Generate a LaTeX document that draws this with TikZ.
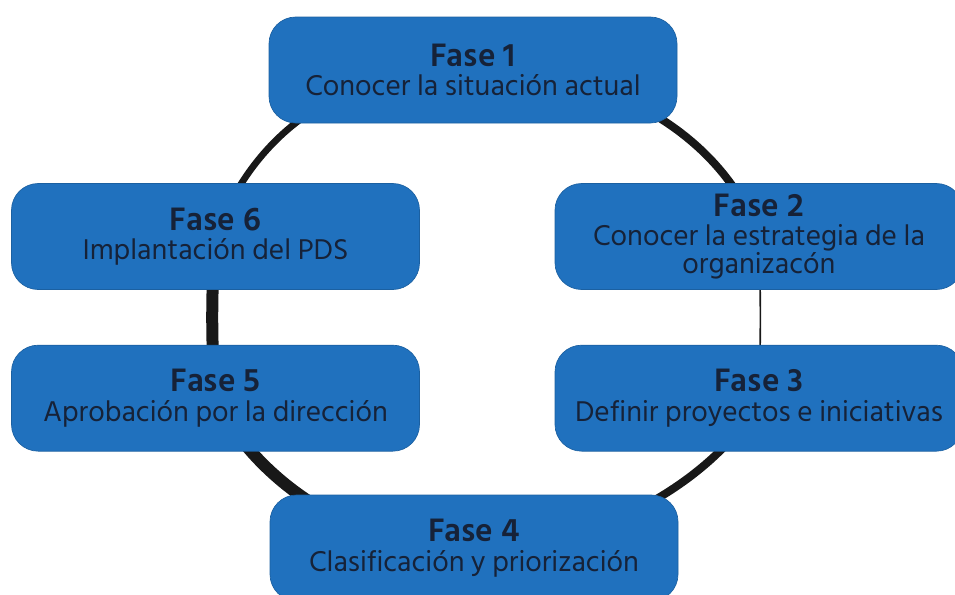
\documentclass[tikz,border=0pt]{standalone}
\usepackage{fontspec}
\setmainfont{Hind Siliguri}
\usetikzlibrary{positioning,backgrounds}
\definecolor{faseblue}{RGB}{32,113,190}
\definecolor{fasetext}{RGB}{22,34,56}
\definecolor{ringblack}{RGB}{24,24,24}

\tikzset{
  fase/.style={rectangle, rounded corners=20pt, fill=faseblue,
    draw=faseblue!85!black, line width=0.5pt,
    minimum width=306pt, minimum height=79.5pt, inner sep=0pt,
    align=center, text=fasetext, font=\fontsize{22}{21}\selectfont},
  ring/.style={draw=ringblack, line cap=butt}
}
\newcommand{\fasetitle}[1]{{\fontsize{25}{21}\selectfont\bfseries #1}\\[1pt]}

\begin{document}
\begin{tikzpicture}[x=0.75pt, y=-0.75pt]
\clip (0,0) rectangle (955,594);

% Fases
\node[fase] (f1) at (473,70) {\fasetitle{Fase 1}Conocer la situación actual};
\node[fase] (f2) at (759,236.5) {\fasetitle{Fase 2}Conocer la estrategia de la\\organizacón};
\node[fase, below=41.25pt of f2] (f3) {\fasetitle{Fase 3}Definir proyectos e iniciativas};
\node[fase] (f4) at (474,548) {\fasetitle{Fase 4}Clasificación y priorización};
\node[fase] (f6) at (215.5,236.5) {\fasetitle{Fase 6}Implantación del PDS};
\node[fase, below=41.25pt of f6] (f5) {\fasetitle{Fase 5}Aprobación por la dirección};

% Ciclo
\begin{scope}[on background layer]
  \draw[ring, line width=6pt] (f1.center) .. controls +(-2:127) and +(-110:113) .. (f2.center);
  \draw[ring, line width=1.2pt] (f2.center) .. controls +(88:50) and +(-88:50) .. (f3.center);
  \draw[ring, line width=6pt] (f3.center) .. controls +(115:80) and +(2:127) .. (f4.center);
  \draw[ring, line width=9pt] (f4.center) .. controls +(178:127) and +(65:80) .. (f5.center);
  \draw[ring, line width=9pt] (f5.center) .. controls +(-95:50) and +(95:50) .. (f6.center);
  \draw[ring, line width=5pt] (f6.center) .. controls +(-70:113) and +(-178:127) .. (f1.center);
\end{scope}
\end{tikzpicture}
\end{document}
